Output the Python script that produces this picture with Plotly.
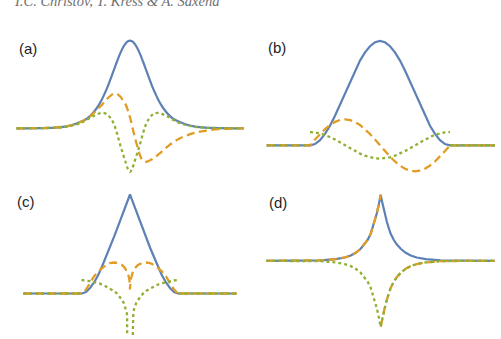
import plotly.graph_objects as go

# ---------------- data (x in arbitrary units, y = amplitude) ----------------
# Panel (a)
xa = [-11.35, -9.0, -7.5, -6.5, -5.7, -5.0, -4.4, -3.9, -3.5, -3.1, -2.8, -2.5, -2.2, -1.9, -1.6, -1.3,
      -1.0, -0.7, -0.4, -0.2, 0.0, 0.2, 0.4, 0.7, 1.0, 1.3, 1.6, 1.9, 2.2, 2.5, 2.8, 3.1, 3.5, 3.9,
      4.4, 5.0, 5.7, 6.5, 7.5, 9.0, 11.35]
blue_a = [0, 0.2, 0.7, 1.7, 3.5, 6.2, 9.0, 13.2, 17.8, 23.7, 29.1, 35.6, 42.5, 50.4, 58.6, 66.8,
          74.4, 80.8, 85.3, 87.0, 87.6, 87.0, 85.3, 80.8, 74.4, 66.8, 58.6, 50.4, 42.5, 35.6, 29.1,
          23.7, 17.8, 13.2, 9.0, 6.2, 3.5, 1.7, 0.7, 0.2, 0]
orange_a = [0, 0.2, 0.7, 1.7, 3.4, 6.0, 9.0, 12.8, 16.5, 20.5, 23.5, 27.0, 30.3, 33.0, 34.8, 34.5,
            32.0, 28.0, 23.0, 17.5, 11.0, 3.0, -5.5, -17.0, -27.0, -32.5, -33.5, -32.5, -31.0, -29.0,
            -26.5, -24.0, -20.5, -17.0, -13.5, -10.0, -7.0, -4.5, -2.5, -0.8, 0]
green_a = [0, 0.2, 0.6, 1.4, 3.0, 5.0, 8.0, 11.0, 13.0, 14.8, 15.5, 15.0, 13.2, 9.7, 4.0, -5.0,
           -16.0, -25.7, -35.0, -41.0, -43.5, -41.0, -35.0, -25.7, -16.0, -5.0, 4.0, 9.7, 13.2, 15.0,
           15.5, 14.8, 13.0, 11.0, 8.0, 5.0, 3.0, 1.4, 0.6, 0.2, 0]

# Panel (b)
xb = [-11.33, -8.5, -7.0, -6.5, -6.0, -5.5, -5.0, -4.5, -4.0, -3.5, -3.0, -2.5, -2.0, -1.5, -1.0, -0.5,
      0.0, 0.5, 1.0, 1.5, 2.0, 2.5, 3.0, 3.5, 4.0, 4.5, 5.0, 5.5, 6.0, 6.5, 7.0, 8.5, 11.5]
blue_b = [0, 0, 0, 1.3, 5.2, 11.4, 19.6, 29.5, 40.5, 52.2, 63.8, 74.8, 84.7, 92.9, 99.1, 103.0,
          104.3, 103.0, 99.1, 92.9, 84.7, 74.8, 63.8, 52.2, 40.5, 29.5, 19.6, 11.4, 5.2, 1.3, 0, 0, 0]
orange_b = [0, 0, 0, 5.8, 11.3, 16.2, 20.3, 23.4, 25.3, 26.0, 25.3, 23.4, 20.3, 16.2, 11.3, 5.8,
            0, -5.8, -11.3, -16.2, -20.3, -23.4, -25.3, -26.0, -25.3, -23.4, -20.3, -16.2, -11.3, -5.8,
            0, 0, 0]
xgb = [-11.33, -7.0, -7.0, -7.0, -6.5, -6.0, -5.5, -5.0, -4.5, -4.0, -3.5, -3.0, -2.5, -2.0, -1.5, -1.0,
       -0.5, 0.0, 0.5, 1.0, 1.5, 2.0, 2.5, 3.0, 3.5, 4.0, 4.5, 5.0, 5.5, 6.0, 6.5, 7.0, 7.0, 7.0, 11.5]
green_b = [0, 0, None, 13.3, 13.0, 12.0, 10.4, 8.3, 5.8, 3.0, 0, -3.0, -5.8, -8.3, -10.4, -12.0,
           -13.0, -13.3, -13.0, -12.0, -10.4, -8.3, -5.8, -3.0, 0, 3.0, 5.8, 8.3, 10.4, 12.0, 13.0,
           13.3, None, 0, 0]

# Panel (c)
xc = [-10.67, -7.0, -4.8, -4.4, -4.0, -3.6, -3.2, -2.8, -2.4, -2.0, -1.6, -1.2, -0.8, -0.5, -0.3,
      -0.15, -0.05, 0.0, 0.05, 0.15, 0.3, 0.5, 0.8, 1.2, 1.6, 2.0, 2.4, 2.8, 3.2, 3.6, 4.0, 4.4, 4.8,
      7.0, 10.67]
blue_c = [0, 0, 0, 1.5, 5.5, 11.0, 18.0, 27.0, 36.5, 46.0, 56.6, 67.2, 77.8, 85.8, 91.1, 95.0, 97.7,
          99.0, 97.7, 95.0, 91.1, 85.8, 77.8, 67.2, 56.6, 46.0, 36.5, 27.0, 18.0, 11.0, 5.5, 1.5, 0, 0, 0]
orange_c = [0, 0, 0, 4.0, 10.5, 17.0, 22.0, 25.5, 28.5, 30.5, 31.0, 30.5, 28.5, 25.5, 22.0, 18.0,
            13.0, 4.0, 13.0, 18.0, 22.0, 25.5, 28.5, 30.5, 31.0, 30.5, 28.5, 25.5, 22.0, 17.0, 10.5,
            4.0, 0, 0, 0]
xgc = [-10.67, -4.85, -4.85, -4.85, -4.4, -4.0, -3.6, -3.0, -2.5, -2.0, -1.6, -1.3, -1.0, -0.8, -0.6,
       -0.5, -0.4, -0.33, -0.29, -0.28, 0.0, 0.28, 0.29, 0.33, 0.4, 0.5, 0.6, 0.8, 1.0, 1.3, 1.6, 2.0,
       2.5, 3.0, 3.6, 4.0, 4.4, 4.85, 4.85, 4.85, 10.67]
green_c = [0, 0, None, 13.5, 13.0, 12.3, 11.3, 9.8, 7.5, 5.0, 2.5, 0.0, -3.5, -6.5, -10.0, -13.0,
           -16.0, -19.0, -24.0, -41.5, None, -41.5, -24.0, -19.0, -16.0, -13.0, -10.0, -6.5, -3.5,
           0.0, 2.5, 5.0, 7.5, 9.8, 11.3, 12.3, 13.0, 13.5, None, 0, 0]

# Panel (d)
xd = [-11.43, -8.0, -6.0, -4.5, -3.6, -3.0, -2.5, -2.0, -1.6, -1.3, -1.0, -0.8, -0.6, -0.4, -0.2, -0.1,
      0.0, 0.1, 0.2, 0.4, 0.6, 0.8, 1.0, 1.3, 1.6, 2.0, 2.5, 3.0, 3.6, 4.5, 6.0, 8.0, 11.4]
blue_d = [0, 0.1, 0.4, 1.6, 3.3, 5.3, 8.0, 12.0, 16.5, 21.0, 27.0, 33.0, 39.5, 47.0, 55.9, 60.7,
          66.0, 60.7, 55.9, 47.0, 39.5, 33.0, 27.0, 21.0, 16.5, 12.0, 8.0, 5.3, 3.3, 1.6, 0.4, 0.1, 0]
xod = [-11.43, -8.0, -6.0, -4.5, -3.6, -3.0, -2.5, -2.0, -1.6, -1.3, -1.0, -0.8, -0.6, -0.4, -0.2, -0.1,
       0.0, 0.0, 0.0, 0.1, 0.2, 0.4, 0.6, 0.8, 1.0, 1.3, 1.6, 2.0, 2.5, 3.0, 3.6, 4.5, 6.0, 8.0, 11.4]
orange_d = [0, 0.1, 0.4, 1.6, 3.3, 5.3, 8.0, 12.0, 16.5, 21.0, 27.0, 33.0, 39.5, 47.0, 55.9, 60.7,
            66.0, None, -66.0, -60.7, -55.9, -47.0, -39.5, -33.0, -27.0, -21.0, -16.5, -12.0, -8.0,
            -5.3, -3.3, -1.6, -0.4, -0.1, 0]
green_d = [0, -0.1, -0.4, -1.6, -3.3, -5.3, -8.0, -12.0, -16.5, -21.0, -27.0, -33.0, -39.5, -47.0,
           -55.9, -60.7, -66.0, -60.7, -55.9, -47.0, -39.5, -33.0, -27.0, -21.0, -16.5, -12.0, -8.0,
           -5.3, -3.3, -1.6, -0.4, -0.1, 0]

labels = ["(a)", "(b)", "(c)", "(d)"]
header = "I.C. Christov, T. Kress &amp; A. Saxena"

# ---------------- styling / layout ----------------
W, H = 501, 339
BLUE, ORANGE, GREEN = "#5E81B5", "#E19C24", "#8FB032"

# panel boxes in pixels: (x0, x1, y0, y1), centre x, baseline y
panels = [
    dict(box=(5, 255, 20, 180), cx=130.0, by=128.3, lab=(27.5, 48.5)),
    dict(box=(255, 500, 20, 180), cx=380.0, by=145.3, lab=(277.0, 47.5)),
    dict(box=(5, 255, 180, 339), cx=130.0, by=293.5, lab=(26.0, 201.0)),
    dict(box=(255, 500, 180, 339), cx=380.7, by=260.8, lab=(278.0, 202.0)),
]
XS = 10.0  # pixels per x unit

series = [
    [(xa, blue_a, "blue"), (xa, orange_a, "orange"), (xa, green_a, "green")],
    [(xb, blue_b, "blue"), (xb, orange_b, "orange"), (xgb, green_b, "green")],
    [(xc, blue_c, "blue"), (xc, orange_c, "orange"), (xgc, green_c, "green")],
    [(xd, blue_d, "blue"), (xod, orange_d, "orange"), (xd, green_d, "green")],
]
shapes_line = ["spline", "linear", "linear", "linear"]

styles = {
    "blue": dict(color=BLUE, width=2.2, dash="solid"),
    "orange": dict(color=ORANGE, width=2.3, dash="8px,4.5px"),
    "green": dict(color=GREEN, width=2.3, dash="3px,3px"),
}

fig = go.Figure()
layout = dict(width=W, height=H, margin=dict(l=0, r=0, t=0, b=0),
              paper_bgcolor="white", plot_bgcolor="rgba(0,0,0,0)", showlegend=False)
annotations = []
for i, p in enumerate(panels):
    n = "" if i == 0 else str(i + 1)
    x0, x1, y0, y1 = p["box"]
    layout["xaxis" + n] = dict(domain=[x0 / W, x1 / W],
                               range=[(x0 - p["cx"]) / XS, (x1 - p["cx"]) / XS],
                               visible=False, anchor="y" + n, fixedrange=True)
    layout["yaxis" + n] = dict(domain=[1 - y1 / H, 1 - y0 / H],
                               range=[p["by"] - y1, p["by"] - y0],
                               visible=False, anchor="x" + n, fixedrange=True)
    for xs, ys, key in series[i]:
        st = styles[key]
        fig.add_trace(go.Scatter(x=xs, y=ys, mode="lines", xaxis="x" + n, yaxis="y" + n,
                                 line=dict(color=st["color"], width=st["width"], dash=st["dash"],
                                           shape=shapes_line[i]),
                                 connectgaps=False, hoverinfo="skip"))
    lx, ly = p["lab"]
    annotations.append(dict(text=labels[i], xref="paper", yref="paper", x=lx / W, y=1 - ly / H,
                            xanchor="center", yanchor="middle", showarrow=False,
                            font=dict(family="Liberation Sans, Arial", size=15, color="#1e1e1e")))

annotations.append(dict(text="<i>" + header + "</i>", xref="paper", yref="paper",
                        x=11.5 / W, y=1 - 1.0 / H, xanchor="left", yanchor="middle", showarrow=False,
                        font=dict(family="Liberation Serif, DejaVu Serif", size=14.5, color="#707070")))
layout["annotations"] = annotations
fig.update_layout(**layout)
fig.write_html("out.html")
